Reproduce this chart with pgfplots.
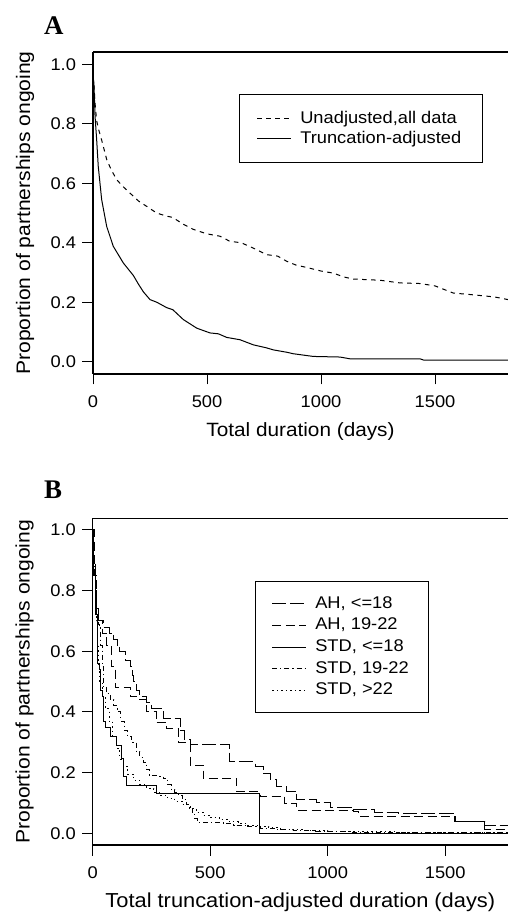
\documentclass[border=0pt]{standalone}
\usepackage{fontspec}
\setmainfont{Liberation Sans}[FakeStretch=1.08]
\newfontfamily\panelfont{Liberation Serif}
\usepackage{pgfplots}
\pgfplotsset{compat=1.18}

\pgfplotsset{
  kmaxis/.style={
    scale only axis,
    axis x line*=box,
    axis y line*=left,
    axis line style={line width=1.1bp, -},
    xtick pos=left, xticklabel pos=left,
    ytick pos=left,
    tick align=outside,
    major tick length=10.5bp,
    every tick/.style={black, line width=1bp},
    xmin=0,
    ytick={0,0.2,0.4,0.6,0.8,1.0},
    xtick={0,500,1000,1500},
    /pgf/number format/assume math mode=true,
    yticklabel style={xshift=-3bp, /pgf/number format/.cd, fixed, fixed zerofill, precision=1},
    xticklabel style={yshift=-8bp, /pgf/number format/.cd, set thousands separator={}},
    tick label style={font=\fontsize{17}{20}\selectfont},
    every axis y label/.style={at={([xshift=-68bp]rel axis cs:0,0.5)}, anchor=center, rotate=90, font=\fontsize{19.6}{23}\selectfont},
    every axis x label/.style={at={([yshift=-62.5bp]rel axis cs:0.5,0)}, anchor=base, font=\fontsize{19.3}{23}\selectfont},
    legend cell align=left,
    legend image code/.code={\draw[##1] (0bp,0bp) -- (33.5bp,0bp);},
    legend style={draw=black, line width=1bp, font=\fontsize{17}{21}\selectfont,
      nodes={inner xsep=4bp, inner ysep=0bp, text height=12.5bp, text depth=3.5bp},
      /tikz/every odd column/.append style={column sep=5bp}},
    every axis plot/.append style={black, line width=1bp},
  }
}

\begin{document}
\begin{tikzpicture}
\path[use as bounding box] (0,0) rectangle (508bp,913bp);

% panel A
\node[anchor=base west, inner sep=0, font=\panelfont\bfseries\fontsize{27}{30}\selectfont] at (44bp,878bp) {A};
\begin{axis}[kmaxis,
  at={(93bp,539bp)}, anchor=south west,
  width=415bp, height=322bp,
  xmax=1820, ymin=-0.041, ymax=1.041,
  xlabel={Total duration (days)},
  ylabel={Proportion of partnerships ongoing},
  legend style={at={(rel axis cs:0.3525,0.8686)}, anchor=north west,
    inner xsep=17bp, inner ysep=16bp, row sep=4bp},
]
\addplot[dash pattern=on 4.5bp off 4.5bp] coordinates {
 (0,0.96) (4,0.93) (10,0.86) (16,0.81) (25,0.78) (38,0.745) (60,0.68) (80,0.645)
 (104,0.612) (130,0.59) (162,0.567) (200,0.54) (240,0.52) (279,0.50) (320,0.49)
 (350,0.485) (396,0.462) (440,0.445) (499,0.43) (557,0.422) (600,0.405) (650,0.40)
 (703,0.382) (762,0.36) (810,0.355) (849,0.338) (890,0.325) (937,0.317) (1000,0.305)
 (1054,0.298) (1100,0.285) (1142,0.278) (1259,0.274) (1346,0.265) (1434,0.263)
 (1500,0.255) (1550,0.24) (1580,0.231) (1668,0.225) (1760,0.218) (1820,0.209)
};
\addlegendentry{Unadjusted,all data}
\addplot[solid] coordinates {
 (0,0.96) (4,0.937) (9,0.825) (16,0.747) (23,0.657) (38,0.545) (60,0.455) (89,0.388)
 (133,0.332) (177,0.29) (200,0.26) (221,0.235) (250,0.209) (280,0.2) (323,0.182)
 (350,0.175) (396,0.142) (455,0.113) (513,0.097) (550,0.094) (586,0.082) (645,0.074)
 (703,0.057) (760,0.047) (791,0.040) (850,0.032) (879,0.027) (966,0.018) (1083,0.016)
 (1127,0.010) (1434,0.010) (1449,0.006) (1820,0.006)
};
\addlegendentry{Truncation-adjusted}
\end{axis}

% panel B
\node[anchor=base west, inner sep=0, font=\panelfont\bfseries\fontsize{27}{30}\selectfont] at (44bp,414bp) {B};
\begin{axis}[kmaxis,
  at={(92.7bp,68bp)}, anchor=south west,
  width=415.3bp, height=326.7bp,
  xmax=1767, ymin=-0.0385, ymax=1.0385,
  xlabel={Total truncation-adjusted duration (days)},
  xlabel style={font=\fontsize{20.3}{24}\selectfont},
  ylabel={Proportion of partnerships ongoing},
  legend style={at={(rel axis cs:0.3915,0.809)}, anchor=north west,
    inner xsep=16bp, inner ysep=14.5bp, row sep=5.7bp},
]
\addplot[const plot, dash pattern=on 14bp off 4bp] coordinates {
 (0,1.0) (5,0.9) (10,0.8) (15,0.72) (25,0.70) (45,0.68) (70,0.66) (90,0.64) (105,0.62)
 (115,0.60) (140,0.57) (160,0.55) (170,0.52) (175,0.50) (185,0.47) (200,0.45) (230,0.43)
 (250,0.41) (300,0.38) (372,0.34) (390,0.31) (414,0.293) (584,0.236) (691,0.22)
 (725,0.198) (755,0.177) (782,0.155) (826,0.139) (868,0.112) (953,0.10) (1010,0.086)
 (1100,0.078) (1200,0.07) (1300,0.066) (1533,0.057) (1545,0.038) (1669,0.027) (1767,0.027)
};
\addlegendentry{AH, <=18}
\addplot[const plot, dash pattern=on 9bp off 4.5bp] coordinates {
 (0,1.0) (8,0.85) (15,0.74) (25,0.70) (40,0.66) (60,0.62) (80,0.55) (95,0.48)
 (160,0.45) (200,0.44) (230,0.40) (270,0.365) (315,0.345) (365,0.30) (414,0.225)
 (470,0.181) (613,0.137) (712,0.121) (818,0.097) (868,0.075) (1110,0.072) (1130,0.057)
 (1533,0.057) (1540,0.038) (1669,0.014) (1767,0.014)
};
\addlegendentry{AH, 19-22}
\addplot[const plot, solid] coordinates {
 (0,1.0) (5,0.85) (12,0.72) (20,0.70) (22,0.56) (30,0.54) (32,0.47) (40,0.45) (45,0.37)
 (55,0.35) (74,0.318) (102,0.29) (123,0.247) (130,0.187) (145,0.159) (272,0.132)
 (710,0.0) (1767,0.0)
};
\addlegendentry{STD, <=18}
\addplot[const plot, dash pattern=on 5bp off 3bp on 1.2bp off 3bp] coordinates {
 (0,1.0) (5,0.88) (10,0.78) (15,0.72) (25,0.69) (30,0.68) (35,0.62) (40,0.55) (45,0.48)
 (60,0.46) (75,0.44) (90,0.42) (105,0.40) (120,0.37) (135,0.34) (150,0.32) (165,0.30)
 (185,0.27) (200,0.25) (215,0.235) (230,0.21) (240,0.19) (285,0.187) (300,0.18)
 (320,0.16) (335,0.145) (350,0.135) (365,0.125) (380,0.11) (400,0.095) (415,0.085)
 (425,0.065) (435,0.05) (445,0.037) (555,0.033) (600,0.027) (660,0.022) (713,0.016)
 (780,0.012) (855,0.009) (950,0.006) (1100,0.004) (1767,0.004)
};
\addlegendentry{STD, 19-22}
\addplot[const plot, dash pattern=on 1.5bp off 3bp] coordinates {
 (0,1.0) (5,0.85) (10,0.75) (15,0.70) (20,0.62) (25,0.55) (30,0.5) (40,0.45) (55,0.41)
 (70,0.37) (85,0.32) (100,0.28) (115,0.245) (130,0.22) (150,0.195) (175,0.175)
 (200,0.16) (230,0.148) (260,0.135) (290,0.125) (320,0.115) (350,0.105) (380,0.095)
 (410,0.082) (440,0.07) (470,0.06) (500,0.052) (540,0.045) (580,0.038) (620,0.032)
 (660,0.027) (700,0.023) (750,0.018) (800,0.014) (850,0.011) (900,0.009) (1000,0.007)
 (1100,0.005) (1300,0.004) (1767,0.003)
};
\addlegendentry{STD, >22}
\end{axis}
\end{tikzpicture}
\end{document}
